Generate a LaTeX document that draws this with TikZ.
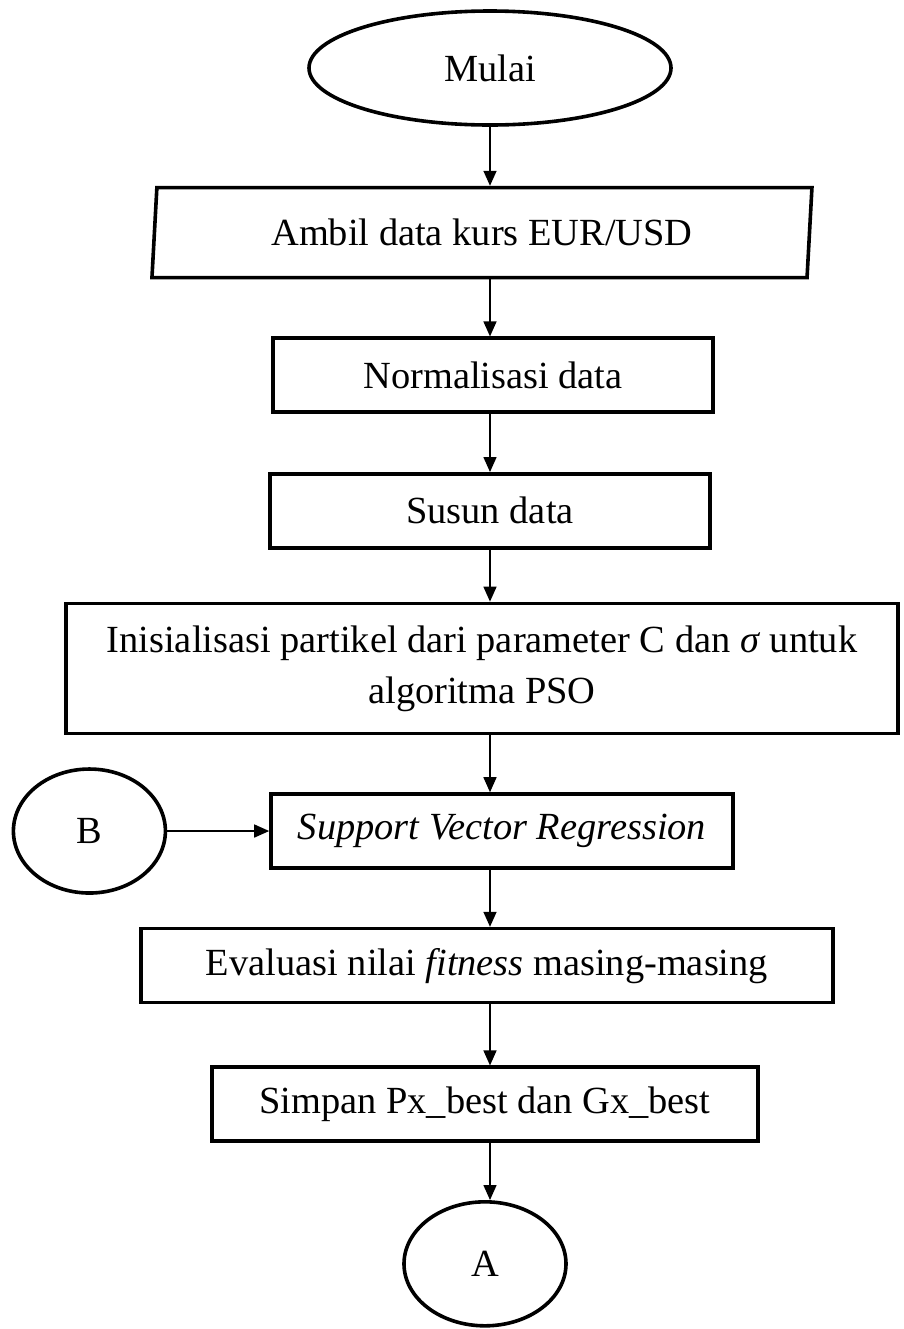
\documentclass[tikz,border=0pt]{standalone}
\usepackage{fontspec}
\setmainfont{Liberation Serif}
\usetikzlibrary{arrows.meta, positioning, shapes.geometric}

\begin{document}
\begin{tikzpicture}[
        >=Stealth,
        every node/.style={font=\fontsize{19.2}{25.5}\selectfont},
        outline/.style={draw, line width=1.8pt, inner sep=2pt},
        procbox/.style={outline, rectangle, minimum height=37pt, align=center},
        iobox/.style={outline, trapezium, trapezium left angle=82, trapezium right angle=98, trapezium stretches body, minimum width=330pt, minimum height=45pt},
        termbox/.style={outline, ellipse, minimum width=181pt, minimum height=57pt},
        connbox/.style={outline, ellipse, minimum width=76pt, minimum height=62pt},
        arr/.style={-{Triangle[width=6.5pt,length=7.5pt]}, line width=0.75pt},
    ]

    \useasboundingbox (0,0) rectangle (452pt,-664.5pt);

    %% ===== Start =====
    \node[termbox] (mulai) at (245pt,-34pt) {Mulai};

    %% ===== Data preparation =====
    \node[iobox, below=29.5pt of mulai, xshift=-4pt] (ambil) {Ambil data kurs EUR/USD};
    \node[procbox, below=28.5pt of ambil, xshift=5.5pt, minimum width=220pt] (norm) {Normalisasi data};
    \node[procbox, below=29pt of norm, xshift=-1.5pt, minimum width=220pt] (susun) {Susun data};

    %% ===== PSO + SVR =====
    \node[procbox, below=26pt of susun, xshift=-4pt, minimum width=416pt, minimum height=65pt] (init) {Inisialisasi partikel dari parameter C dan \textit{σ} untuk\\algoritma PSO};
    \node[procbox, below=28.5pt of init, xshift=10pt, minimum width=231pt] (svr) {\textit{Support Vector Regression}};
    \node[connbox, left=51pt of svr] (connb) {B};
    \node[procbox, below=28.5pt of svr, xshift=-7.5pt, minimum width=346pt] (eval) {Evaluasi nilai \textit{fitness} masing-masing};
    \node[procbox, below=30.5pt of eval, xshift=-1pt, minimum width=273pt] (simpan) {Simpan Px\_best dan Gx\_best};

    %% ===== Connector to next page =====
    \node[connbox, below=28.5pt of simpan, minimum width=81pt] (conna) {A};

    %% Arrows down the main line
    \foreach \a/\b in {mulai/ambil, ambil/norm, norm/susun, susun/init, init/svr, svr/eval, eval/simpan, simpan/conna}
        \draw[arr] (\a.south -| mulai) -- (\b.north -| mulai);

    %% Arrow from connector B
    \draw[arr] (connb) -- (svr);

\end{tikzpicture}
\end{document}
